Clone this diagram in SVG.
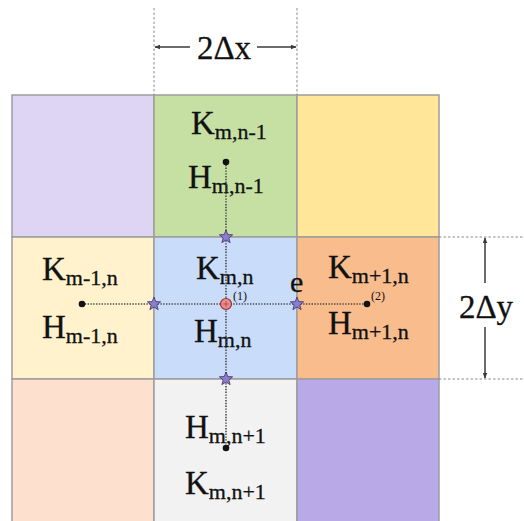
<svg xmlns="http://www.w3.org/2000/svg" width="524" height="521" viewBox="0 0 524 521">
<style>
.cell{stroke:#9d9d9d;stroke-width:1.5}
.big{font-family:"Liberation Serif","Times New Roman",Times,serif;font-size:33px;fill:#111;stroke:#111;stroke-width:0.3}
.sub{font-size:22px}
.small{font-family:"Liberation Serif","Times New Roman",Times,serif;font-size:12px;fill:#111}
.dot{stroke:#4a4a4a;stroke-width:1.6;stroke-dasharray:1.4 1.4;fill:none}
.guide{stroke:#8a8a8a;stroke-width:1;stroke-dasharray:2.5 2;fill:none}
.dim{stroke:#3a3a3a;stroke-width:1.5;fill:none}
.star{fill:#8d7dcf;stroke:#3b3164;stroke-width:0.8}
.pt{fill:#111}
</style>
<defs>
<marker id="ah" viewBox="0 0 10 10" refX="9" refY="5" markerWidth="6" markerHeight="6" orient="auto-start-reverse" markerUnits="userSpaceOnUse">
<path d="M0,1 L10,5 L0,9 Z" fill="#3a3a3a"/>
</marker>
<path id="st" d="M0,-7 L1.76,-2.43 L6.66,-2.16 L2.85,0.93 L4.11,5.66 L0,3 L-4.11,5.66 L-2.85,0.93 L-6.66,-2.16 L-1.76,-2.43 Z"/>
</defs>

<g id="cell-tl"><rect class="cell" x="12" y="95" width="142" height="142" fill="#ddd5f3"/></g>
<g id="cell-tc"><rect class="cell" x="154" y="95" width="143" height="142" fill="#c6e0a3"/>
<text class="big" x="191" y="134">K<tspan class="sub" dy="5">m,n-1</tspan></text>
<text class="big" x="188" y="188">H<tspan class="sub" dy="5">m,n-1</tspan></text></g>
<g id="cell-tr"><rect class="cell" x="297" y="95" width="142" height="142" fill="#ffe699"/></g>

<g id="cell-ml"><rect class="cell" x="12" y="237" width="142" height="142" fill="#fff2cc"/>
<text class="big" x="42" y="280">K<tspan class="sub" dy="5">m-1,n</tspan></text>
<text class="big" x="42" y="338">H<tspan class="sub" dy="5">m-1,n</tspan></text></g>
<g id="cell-mc"><rect class="cell" x="154" y="237" width="143" height="142" fill="#c9dcf9"/>
<text class="big" x="196" y="279">K<tspan class="sub" dy="5">m,n</tspan></text>
<text class="big" x="194" y="342">H<tspan class="sub" dy="5">m,n</tspan></text></g>
<g id="cell-mr"><rect class="cell" x="297" y="237" width="142" height="142" fill="#f8bc8d"/>
<text class="big" x="328" y="278">K<tspan class="sub" dy="5">m+1,n</tspan></text>
<text class="big" x="328" y="334">H<tspan class="sub" dy="5">m+1,n</tspan></text></g>

<g id="cell-bl"><rect class="cell" x="12" y="379" width="142" height="145" fill="#fde1ce"/></g>
<g id="cell-bc"><rect class="cell" x="154" y="379" width="143" height="145" fill="#f2f2f2"/>
<text class="big" x="185" y="438">H<tspan class="sub" dy="5">m,n+1</tspan></text>
<text class="big" x="185" y="494">K<tspan class="sub" dy="5">m,n+1</tspan></text></g>
<g id="cell-br"><rect class="cell" x="297" y="379" width="142" height="145" fill="#b9a9e7"/></g>

<g id="connectors">
<line class="dot" x1="226" y1="162" x2="226" y2="448"/>
<line class="dot" x1="82" y1="304" x2="367" y2="304"/>
<line class="guide" x1="154" y1="8" x2="154" y2="95"/>
<line class="guide" x1="297" y1="8" x2="297" y2="95"/>
<line class="guide" x1="439" y1="237" x2="524" y2="237"/>
<line class="guide" x1="439" y1="379" x2="524" y2="379"/>
<line class="dim" x1="190" y1="47" x2="155" y2="47" marker-end="url(#ah)"/>
<line class="dim" x1="257" y1="47" x2="296" y2="47" marker-end="url(#ah)"/>
<line class="dim" x1="485" y1="283" x2="485" y2="238" marker-end="url(#ah)"/>
<line class="dim" x1="485" y1="327" x2="485" y2="378" marker-end="url(#ah)"/>
</g>

<g id="markers">
<circle class="pt" cx="226" cy="162" r="3.3"/>
<circle class="pt" cx="82" cy="304" r="3.3"/>
<circle class="pt" cx="367" cy="304" r="3.3"/>
<circle class="pt" cx="226" cy="448" r="3.3"/>
<use href="#st" class="star" x="226" y="237"/>
<use href="#st" class="star" x="154" y="304"/>
<use href="#st" class="star" x="297" y="304"/>
<use href="#st" class="star" x="226" y="379"/>
<circle cx="226" cy="304" r="5.5" fill="#e98e8e" stroke="#9a2f2f" stroke-width="1.2"/>
<path d="M223,304 H229 M226,301 V307" stroke="#b04040" stroke-width="0.8"/>
</g>

<g id="labels">
<text class="small" x="233" y="300">(1)</text>
<text class="small" x="371" y="300">(2)</text>
<text class="big" x="290" y="292" style="font-size:30px">e</text>
<text class="big" x="224" y="59" text-anchor="middle">2Δx</text>
<text class="big" x="486" y="318" text-anchor="middle">2Δy</text>
</g>
</svg>
